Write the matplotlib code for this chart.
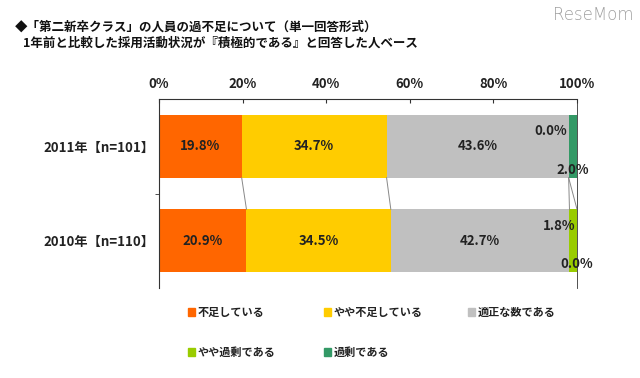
import numpy as np
import matplotlib.pyplot as plt
from matplotlib.patches import Rectangle

plt.rcParams['font.family'] = ['Noto Sans CJK JP', 'DejaVu Sans']

categories = ["2011年【n=101】", "2010年【n=110】"]
series = ["不足している", "やや不足している", "適正な数である", "やや過剰である", "過剰である"]
values = np.array([
    [19.8, 34.7, 43.6, 0.0, 2.0],
    [20.9, 34.5, 42.7, 1.8, 0.0],
])
colors = ["#FF6600", "#FFCC00", "#C0C0C0", "#99CC00", "#339966"]
ticks = [0, 20, 40, 60, 80, 100]
tick_labels = ["0%", "20%", "40%", "60%", "80%", "100%"]

W, H = 640, 378
fig = plt.figure(figsize=(6.4, 3.78), dpi=100)
ax = fig.add_axes([159 / W, 1 - 288 / H, (577 - 159) / W, (288 - 99) / H])

# 100% stacked
shares = values / values.sum(axis=1, keepdims=True) * 100
ypos = np.arange(len(categories))
bh = 0.667
left = np.zeros(len(categories))
for j, name in enumerate(series):
    ax.barh(ypos, shares[:, j], left=left, height=bh, color=colors[j], label=name)
    left = left + shares[:, j]

# series lines between bars
cum = np.cumsum(shares, axis=1)
for j in range(len(series) - 1):
    for i in range(len(categories) - 1):
        ax.plot([cum[i, j], cum[i + 1, j]], [ypos[i] + bh / 2, ypos[i + 1] - bh / 2],
                color="#888888", lw=0.7, zorder=1)

# data labels
for i in range(len(categories)):
    n_small = 0
    for j in range(len(series)):
        v = values[i, j]
        start = cum[i, j] - shares[i, j]
        end = cum[i, j]
        txt = f"{v:.1f}%"
        if v >= 5:
            ax.text((start + end) / 2, ypos[i], txt, ha="center", va="center",
                    fontsize=9.5, fontweight="bold", color="#222222")
        else:
            if n_small == 0:
                ax.annotate(txt, (end, ypos[i] - 0.16), xytext=(-1, 0),
                            textcoords="offset points", ha="right", va="center",
                            fontsize=9.5, fontweight="bold", color="#222222")
            else:
                ax.annotate(txt, ((start + end) / 2, ypos[i] + 0.25), ha="center",
                            va="center", fontsize=9.5, fontweight="bold", color="#222222")
            n_small += 1

ax.set_xlim(0, 100)
ax.set_ylim(len(categories) - 0.5, -0.5)
ax.xaxis.tick_top()
ax.set_xticks(ticks)
ax.set_xticklabels(tick_labels, fontsize=9.5, fontweight="bold", color="#222222")
ax.tick_params(axis="x", direction="in", length=3, pad=6, color="#333333")
ax.set_yticks(ypos)
ax.set_yticklabels(categories, fontsize=9.5, fontweight="bold", color="#222222")
ax.set_yticks([0.5], minor=True)
ax.tick_params(axis="y", which="major", length=0, pad=3)
ax.tick_params(axis="y", which="minor", length=3, direction="out", color="#333333")
ax.spines["bottom"].set_visible(False)
for s in ["top", "left", "right"]:
    ax.spines[s].set_color("#333333")
    ax.spines[s].set_linewidth(0.8)
ax.spines["right"].set_linewidth(0.6)

# legend (manual grid)
leg_pos = [(188, 312), (324, 312), (468, 312), (188, 352), (324, 352)]
for (px, py), name, c in zip(leg_pos, series, colors):
    fig.patches.append(Rectangle((px / W, 1 - (py + 4) / H), 7 / W, 8 / H,
                                 transform=fig.transFigure, color=c))
    fig.text((px + 10) / W, 1 - py / H, name, ha="left", va="center",
             fontsize=8, fontweight="bold", color="#222222")

# titles
fig.text(15 / W, 1 - 27 / H, "◆「第二新卒クラス」の人員の過不足について（単一回答形式）",
         ha="left", va="center", fontsize=9, fontweight="bold", color="#111111")
fig.text(23 / W, 1 - 43 / H, "1年前と比較した採用活動状況が『積極的である』と回答した人ベース",
         ha="left", va="center", fontsize=9, fontweight="bold", color="#111111")
fig.text(593 / W, 1 - 15 / H, "ReseMom", ha="center", va="center",
         fontsize=12, color="#a0a0a0", family="DejaVu Sans", fontweight="light")

fig.savefig("out.png", dpi=100)
